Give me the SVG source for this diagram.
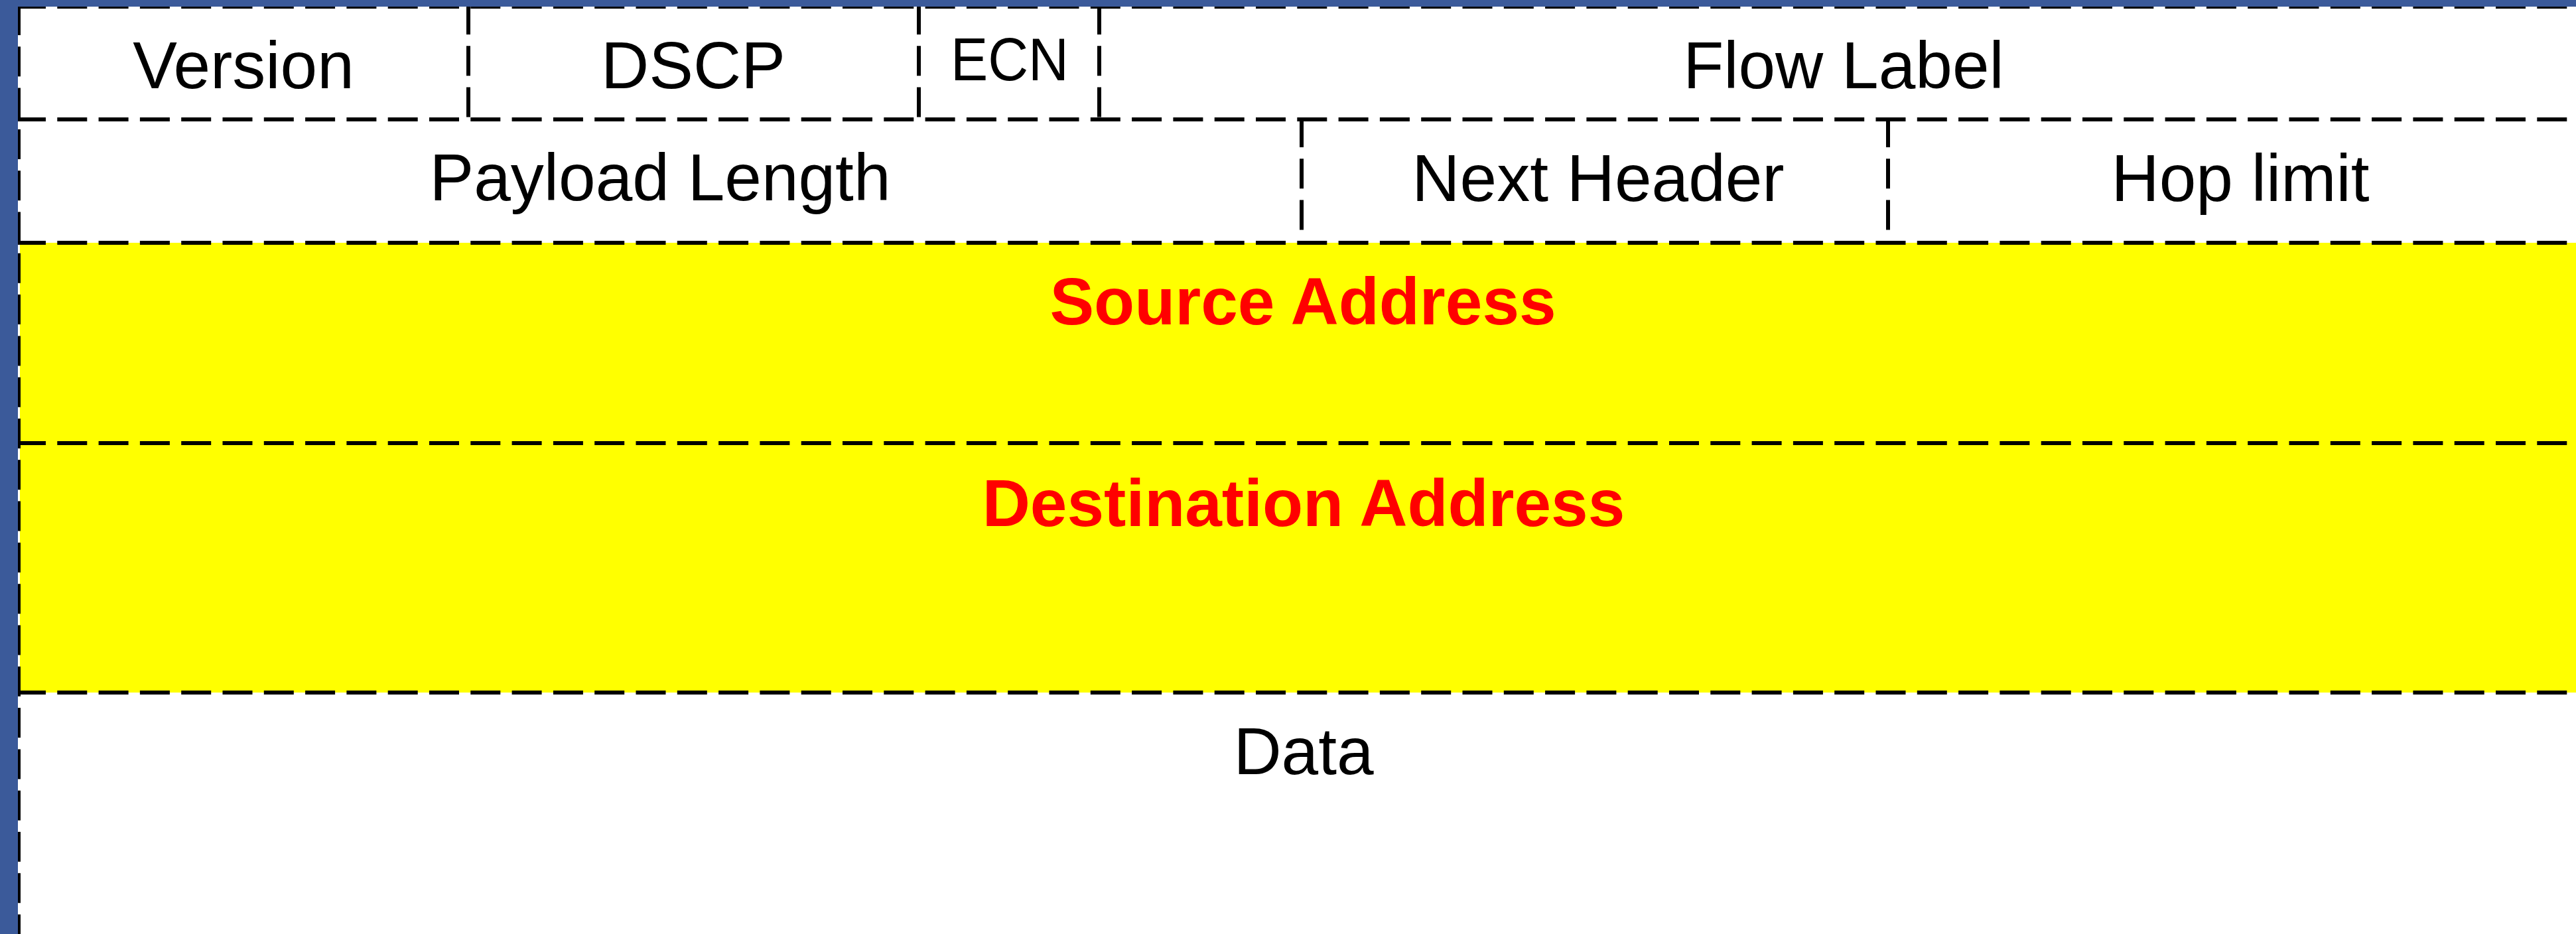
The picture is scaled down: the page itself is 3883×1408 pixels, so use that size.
<svg xmlns="http://www.w3.org/2000/svg" width="3883" height="1408" viewBox="0 0 3883 1408">
  <style>
    .lbl { font-family: "Liberation Sans", Arial, sans-serif; font-size: 100px; fill: #000000; text-anchor: middle; }
    .addr { font-family: "Liberation Sans", Arial, sans-serif; font-size: 100px; font-weight: bold; fill: #FF0000; text-anchor: middle; }
    .dash { stroke: #000000; stroke-width: 6; stroke-dasharray: 45 17.3; fill: none; }
  </style>
  <rect x="0" y="0" width="3883" height="1408" fill="#FFFFFF"/>
  <g id="fields">
    <g id="version"><text class="lbl" x="367" y="133">Version</text></g>
    <g id="dscp"><text class="lbl" x="1045" y="133">DSCP</text></g>
    <g id="ecn"><text class="lbl" x="1522" y="121" style="font-size:90px" textLength="178" lengthAdjust="spacingAndGlyphs">ECN</text></g>
    <g id="flow-label"><text class="lbl" x="2779" y="133">Flow Label</text></g>
    <g id="payload-length"><text class="lbl" x="995" y="302">Payload Length</text></g>
    <g id="next-header"><text class="lbl" x="2409" y="303">Next Header</text></g>
    <g id="hop-limit"><text class="lbl" x="3377" y="303">Hop limit</text></g>
    <g id="source-address">
      <rect x="30" y="366" width="3853" height="302" fill="#FFFF00"/>
      <text class="addr" x="1964" y="489">Source Address</text>
    </g>
    <g id="destination-address">
      <rect x="30" y="668" width="3853" height="376" fill="#FFFF00"/>
      <text class="addr" x="1965" y="793">Destination Address</text>
    </g>
    <g id="data"><text class="lbl" x="1965" y="1167">Data</text></g>
  </g>
  <g id="connectors">
    <line class="dash" x1="24" y1="10" x2="3883" y2="10"/>
    <line class="dash" x1="24" y1="180" x2="3883" y2="180"/>
    <line class="dash" x1="24" y1="366" x2="3883" y2="366"/>
    <line class="dash" x1="24" y1="668" x2="3883" y2="668"/>
    <line class="dash" x1="24" y1="1044" x2="3883" y2="1044"/>
    <line class="dash" x1="28" y1="8" x2="28" y2="1408"/>
    <line class="dash" x1="706" y1="7" x2="706" y2="180"/>
    <line class="dash" x1="1385" y1="7" x2="1385" y2="180"/>
    <line class="dash" x1="1657" y1="7" x2="1657" y2="180"/>
    <line class="dash" x1="1962" y1="177" x2="1962" y2="366"/>
    <line class="dash" x1="2846" y1="177" x2="2846" y2="366"/>
  </g>
  <g id="frame">
    <rect x="0" y="0" width="3883" height="10" fill="#3B5A9A"/>
    <rect x="0" y="0" width="27" height="1408" fill="#3B5A9A"/>
  </g>
</svg>
